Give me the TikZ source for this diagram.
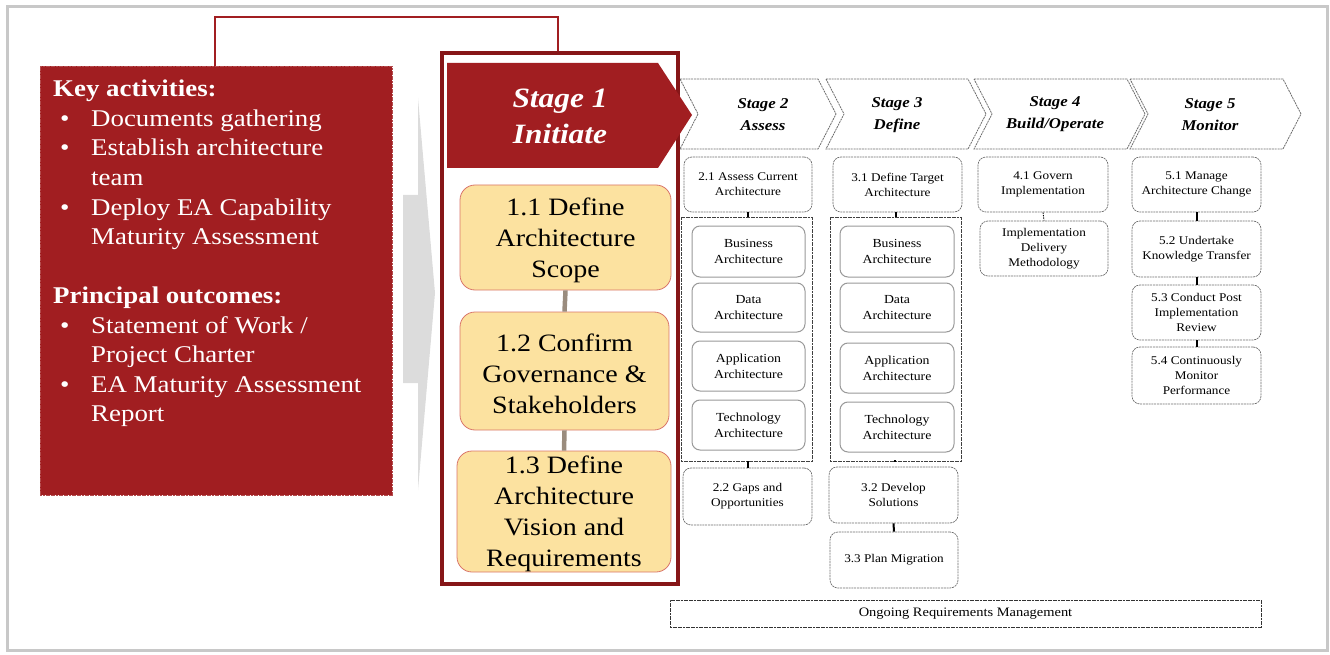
\documentclass[tikz,border=0pt]{standalone}
\usepackage{fontspec}
\setmainfont{Liberation Serif}[FakeStretch=1.12]
\definecolor{keyred}{HTML}{A11E21}
\definecolor{framered}{HTML}{861618}
\definecolor{boxyellow}{HTML}{FCE2A0}
\definecolor{boxedge}{HTML}{D9756A}
\definecolor{linkbrown}{HTML}{9A8C7E}
\definecolor{dashgray}{HTML}{6E6E6E}
\definecolor{arrowgray}{HTML}{DCDCDC}
\definecolor{outergray}{HTML}{C8C8C8}
\tikzset{
  smallbox/.style={draw=dashgray, line width=0.7pt, dash pattern=on 2pt off 0.8pt, rounded corners=8pt, fill=white, align=center, font=\fontsize{11.8}{15}\selectfont, inner sep=0pt},
  innerbox/.style={draw=gray!80, line width=1pt, rounded corners=8pt, fill=white, align=center, font=\fontsize{12.3}{16}\selectfont, inner sep=0pt, minimum width=113pt},
  groupbox/.style={draw=black!75, line width=0.9pt, dash pattern=on 2pt off 0.6pt, inner sep=0pt, minimum width=131pt, minimum height=244pt},
  yellowbox/.style={draw=boxedge, line width=0.8pt, rounded corners=15pt, fill=boxyellow, inner sep=0pt},
  yellowtext/.style={align=center, font=\fontsize{25}{31}\selectfont, inner sep=0pt},
  stagebox/.style={draw=dashgray, line width=0.8pt, dash pattern=on 2pt off 0.8pt, fill=white},
  stagetext/.style={align=center, font=\fontsize{15}{22}\selectfont\bfseries\itshape},
  keyline/.style={anchor=base west, text=white, font=\fontsize{24}{29.5}\selectfont, inner sep=0pt},
  link/.style={draw=black, line width=2pt},
  ylink/.style={draw=linkbrown, line width=4.5pt},
}
\begin{document}
\begin{tikzpicture}[x=1pt,y=-1pt]
\useasboundingbox (0,0) rectangle (1330,655);
% outer frame
\draw[outergray, line width=3pt] (7,7) rectangle (1327,650);
% red bracket line
\coordinate (bl) at (215,66);
\coordinate (br) at (558,53);
\draw[keyred, line width=1.2pt] (bl) -- (215,17) -- (558,17) -- (br);
% left red box
\node[fill=keyred, draw=keyred!80!white, line width=0.6pt, dash pattern=on 2pt off 0.6pt, minimum width=352pt, minimum height=429pt, inner sep=0pt, anchor=north west] (keybox) at (40,66) {};
\newcommand{\blt}{\makebox[38pt][l]{\hspace{7pt}\textbullet}}
\node[keyline] (k1) at (53,97) {\textbf{Key activities:}};
\node[keyline] (k2) at (53,126.5) {\blt Documents gathering};
\node[keyline] (k3) at (53,156) {\blt Establish architecture};
\node[keyline] (k4) at (91,185.5) {team};
\node[keyline] (k5) at (53,215) {\blt Deploy EA Capability};
\node[keyline] (k6) at (91,244.5) {Maturity Assessment};
\node[keyline] (k7) at (53,303.5) {\textbf{Principal outcomes:}};
\node[keyline] (k8) at (53,333) {\blt Statement of Work /};
\node[keyline] (k9) at (91,362.5) {Project Charter};
\node[keyline] (k10) at (53,392) {\blt EA Maturity Assessment};
\node[keyline] (k11) at (91,421.5) {Report};
% gray arrow
\fill[arrowgray] (403,195) -- (418,195) -- (418,98) -- (435,293) -- (418,490) -- (418,383) -- (403,383) -- cycle;
% stage chevrons 2-5 (drawn before frame)
\foreach \L/\R/\n in {680/818/s2, 826/968/s3, 974/1127/s4, 1130/1283/s5}{
  \draw[stagebox] (\L,79) -- (\R,79) -- (\R+18,114) -- (\R,149) -- (\L,149) -- (\L+18,114) -- cycle;
}
\node[stagetext] (s2) at (763,115) {Stage 2\\Assess};
\node[stagetext] (s3) at (897,115) {Stage 3\\Define};
\node[stagetext] (s4) at (1055,114) {Stage 4\\Build/Operate};
\node[stagetext] (s5) at (1210,115) {Stage 5\\Monitor};
% stage 1 frame
\draw[framered, line width=3.5pt] (442,53) rectangle (678,584);
% stage 1 header
\fill[keyred] (447,63) -- (658,63) -- (692,115) -- (658,168) -- (447,168) -- cycle;
\node[text=white, align=center, font=\fontsize{28}{36}\selectfont\bfseries\itshape] (s1) at (560,116) {Stage 1\\Initiate};
% yellow boxes
\node[yellowbox, minimum width=211pt, minimum height=105pt] (y11) at (565.5,237.5) {};
\node[yellowbox, minimum width=209pt, minimum height=118pt] (y12) at (564.5,371) {};
\node[yellowbox, minimum width=214pt, minimum height=121pt] (y13) at (564,511.5) {};
\node[yellowtext] (y11t) at (565.5,240.5) {1.1 Define\\Architecture\\Scope};
\node[yellowtext] (y12t) at (564.5,374) {1.2 Confirm\\Governance \&\\Stakeholders};
\node[yellowtext] (y13t) at (564,514) {1.3 Define\\Architecture\\Vision and\\Requirements};
\draw[ylink] (y11.south) -- (y12.north);
\draw[ylink] (y12.south) -- (y13.north);
% column 2
\node[smallbox, minimum width=128pt, minimum height=55pt] (a21) at (748,184.5) {2.1 Assess Current\\Architecture};
\node[groupbox] (g2) at (746.5,339) {};
\node[innerbox, minimum height=51pt] (b2) at (748.5,251.5) {Business\\Architecture};
\node[innerbox, minimum height=49pt] (d2) at (748.5,307.5) {Data\\Architecture};
\node[innerbox, minimum height=50pt] (ap2) at (748.5,366) {Application\\Architecture};
\node[innerbox, minimum height=50pt] (t2) at (748.5,425) {Technology\\Architecture};
\node[smallbox, minimum width=129pt, minimum height=57pt] (a22) at (747.5,496.5) {2.2 Gaps and\\Opportunities};
\draw[link] (a21.south) -- (a21.south |- g2.north);
\draw[link] (a22.north |- g2.south) -- (a22.north);
% column 3
\node[smallbox, minimum width=129pt, minimum height=55pt] (a31) at (897.5,184.5) {3.1 Define Target\\Architecture};
\node[groupbox] (g3) at (895.5,339) {};
\node[innerbox, minimum width=114pt, minimum height=51pt] (b3) at (897,251.5) {Business\\Architecture};
\node[innerbox, minimum width=114pt, minimum height=49pt] (d3) at (897,307.5) {Data\\Architecture};
\node[innerbox, minimum width=114pt, minimum height=50pt] (ap3) at (897,368) {Application\\Architecture};
\node[innerbox, minimum width=114pt, minimum height=50pt] (t3) at (897,427) {Technology\\Architecture};
\node[smallbox, minimum width=129pt, minimum height=56pt] (a32) at (893.5,495) {3.2 Develop\\Solutions};
\node[smallbox, minimum width=128pt, minimum height=56pt] (a33) at (894,560) {3.3 Plan Migration};
\draw[link] (a31.south -| g3.north) -- (g3.north);
\draw[link] (g3.south) -- (g3.south -| a32.north);
\draw[link] (a32.south) -- (a33.north);
% column 4
\node[smallbox, minimum width=130pt, minimum height=55pt] (a41) at (1043,184.5) {4.1 Govern\\Implementation};
\node[smallbox, minimum width=128pt, minimum height=55pt] (imp) at (1044,248.5) {Implementation\\Delivery\\Methodology};
\draw[black, line width=0.8pt, dash pattern=on 1.5pt off 1pt] (a41.south) -- (imp.north);
% column 5
\node[smallbox, minimum width=129pt, minimum height=55pt] (a51) at (1196.5,184.5) {5.1 Manage\\Architecture Change};
\node[smallbox, minimum width=129pt, minimum height=56pt] (a52) at (1196.5,249) {5.2 Undertake\\Knowledge Transfer};
\node[smallbox, minimum width=129pt, minimum height=55pt] (a53) at (1196.5,312.5) {5.3 Conduct Post\\Implementation\\Review};
\node[smallbox, minimum width=129pt, minimum height=57pt] (a54) at (1196.5,375.5) {5.4 Continuously\\Monitor\\Performance};
\draw[link] (a51.south) -- (a52.north);
\draw[link] (a52.south) -- (a53.north);
\draw[link] (a53.south) -- (a54.north);
% ongoing
\node[draw=black!80, line width=0.9pt, dash pattern=on 2pt off 0.6pt, minimum width=591pt, minimum height=27pt, inner sep=0pt, font=\fontsize{12.9}{15}\selectfont] (orm) at (965.5,613.5) {Ongoing Requirements Management};
\end{tikzpicture}
\end{document}
